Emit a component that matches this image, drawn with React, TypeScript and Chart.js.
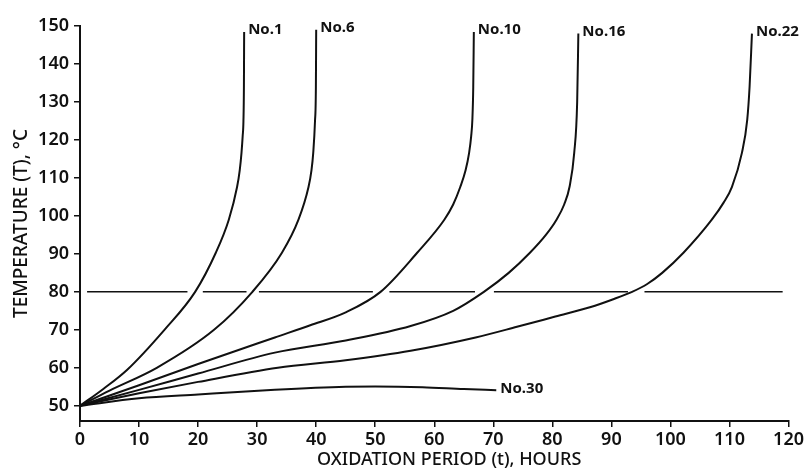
import React, { useEffect, useRef } from 'react';
import { Chart, registerables } from 'chart.js';

Chart.register(...registerables);

// Axis ticks
const xTicks = [0, 10, 20, 30, 40, 50, 60, 70, 80, 90, 100, 110, 120];
const yTicks = [50, 60, 70, 80, 90, 100, 110, 120, 130, 140, 150];

// Curve names
const curveNames = ['No.1', 'No.6', 'No.10', 'No.16', 'No.22', 'No.30'];

// Oxidation period (h) and temperature (°C) for each curve
const no1Time = [0, 4, 8, 14.3, 19.5, 23, 25.2, 26.6, 27.05, 27.35, 27.55, 27.68, 27.76, 27.8];
const no1Temp = [50, 54.5, 59.5, 70, 80, 90.3, 99, 107.6, 112, 116.6, 121, 125, 134, 148.4];

const no6Time = [0, 5, 13, 22.7, 29.2, 34.2, 37, 38.7, 39.2, 39.5, 39.8, 39.95, 40.0];
const no6Temp = [50, 54, 60, 70, 80, 90.3, 99, 107.6, 112, 116.6, 125, 134, 149];

const no10Time = [0, 10, 20, 33, 39, 45, 50.9, 57.1, 61.7, 63.2, 64.4, 65.3, 65.9, 66.25, 66.45, 66.6, 66.7];
const no10Temp = [50, 55.4, 61, 68, 71.2, 74.6, 80, 90.3, 99, 103, 107.6, 112, 116.6, 121, 125.3, 134, 148.4];

const no16Time = [0, 10, 20, 33, 45, 56, 63.2, 68.4, 72.6, 76.2, 78.9, 80.7, 82, 82.9, 83.7, 84.2, 84.4];
const no16Temp = [50, 54.2, 58.5, 64, 67.2, 71, 75, 80, 85, 90.3, 95, 99, 103, 107.6, 116.6, 130, 148];

const no22Time = [0, 10, 20, 33.5, 45, 56, 67, 74, 80.5, 86.5, 90.2, 93.5, 96, 98.6, 102.2, 107, 109, 110.4, 112.1, 113, 113.4, 113.8];
const no22Temp = [50, 53.3, 56.3, 60, 62, 64.5, 68, 70.8, 73.5, 76, 78, 80, 82, 85, 90.3, 99, 103.5, 107.6, 116.6, 125.3, 134, 148];

const no30Time = [0, 10, 20, 33, 45, 50, 58, 65, 70.5];
const no30Temp = [50, 52, 53, 54.2, 55, 55.1, 54.9, 54.4, 54.1];

// Broken horizontal reference line at 80 °C (segments between curve crossings)
const refLevel = 80;
const refSegStart = [1.2, 20.8, 30.3, 52.4, 70.1, 95.6];
const refSegEnd = [18.2, 28.2, 49.6, 66.9, 92.8, 119];

const xTitle = 'OXIDATION PERIOD (t), HOURS';
const yTitle = 'TEMPERATURE (T), °C';

const FONT = "'Noto Sans', 'DejaVu Sans', sans-serif";
const INK = '#111111';

function zip(xs: number[], ys: number[]) {
  return xs.map((x, i) => ({ x, y: ys[i] }));
}

export default function App() {
  const ref = useRef<HTMLCanvasElement>(null);

  useEffect(() => {
    document.body.style.margin = '0';
    const canvas = ref.current!;

    const series = [
      zip(no1Time, no1Temp),
      zip(no6Time, no6Temp),
      zip(no10Time, no10Temp),
      zip(no16Time, no16Temp),
      zip(no22Time, no22Temp),
      zip(no30Time, no30Temp),
    ];
    const refData: any[] = [];
    refSegStart.forEach((s, i) => {
      refData.push({ x: s, y: refLevel });
      refData.push({ x: refSegEnd[i], y: refLevel });
      if (i < refSegStart.length - 1) refData.push({ x: (refSegEnd[i] + refSegStart[i + 1]) / 2, y: null });
    });

    const curveDatasets = series.map((d, i) => ({
      label: curveNames[i],
      data: d,
      borderColor: INK,
      borderWidth: 2,
      pointRadius: 0,
      fill: false,
      cubicInterpolationMode: 'monotone' as const,
    }));

    const labelPlugin = {
      id: 'curveLabels',
      afterDatasetsDraw(chart: any) {
        const { ctx, scales } = chart;
        ctx.save();
        ctx.fillStyle = INK;
        ctx.font = `bold 15px ${FONT}`;
        ctx.textBaseline = 'middle';
        ctx.textAlign = 'left';
        series.forEach((d, i) => {
          const last = d[d.length - 1];
          const px = scales.x.getPixelForValue(last.x);
          const py = scales.y.getPixelForValue(last.y);
          ctx.fillText(curveNames[i], px + 4, py - 2);
        });
        // x-axis title
        const ca = chart.chartArea;
        ctx.font = `500 18px ${FONT}`;
        ctx.textAlign = 'center';
        ctx.fillText(xTitle, ca.left + (ca.right - ca.left) * 0.521, 460);
        ctx.restore();
      },
    };

    const chart = new Chart(canvas, {
      type: 'line',
      data: {
        datasets: [
          ...curveDatasets,
          {
            label: '80',
            data: refData,
            borderColor: INK,
            borderWidth: 1.5,
            pointRadius: 0,
            spanGaps: false,
            fill: false,
          } as any,
        ],
      },
      options: {
        responsive: false,
        animation: false,
        devicePixelRatio: 1,
        layout: { padding: { top: 26, right: 12, left: 0, bottom: 0 } },
        plugins: {
          legend: { display: false },
          tooltip: { enabled: false },
          title: { display: false },
        },
        scales: {
          x: {
            type: 'linear',
            min: 0,
            max: 120,
            afterBuildTicks: (s: any) => {
              s.ticks = xTicks.map((v) => ({ value: v }));
            },
            afterFit: (s: any) => {
              s.height = 50;
            },
            ticks: {
              color: INK,
              font: { family: FONT, size: 18, weight: '600' as any },
              padding: 2,
              maxRotation: 0,
              autoSkip: false,
            },
            grid: { drawOnChartArea: false, tickLength: 6, color: INK, lineWidth: 1.5 },
            border: { color: INK, width: 2 },
          },
          y: {
            type: 'linear',
            min: 46,
            max: 150,
            afterBuildTicks: (s: any) => {
              s.ticks = yTicks.map((v) => ({ value: v }));
            },
            afterFit: (s: any) => {
              s.width = 80;
            },
            ticks: {
              color: INK,
              font: { family: FONT, size: 18, weight: '600' as any },
              padding: 5,
              autoSkip: false,
            },
            grid: { drawOnChartArea: false, tickLength: 6, color: INK, lineWidth: 1.5 },
            border: { color: INK, width: 2 },
            title: {
              display: true,
              text: yTitle,
              color: INK,
              font: { family: FONT, size: 19, weight: '500' as any },
              padding: { top: 10, bottom: 0 },
            },
          },
        },
      },
      plugins: [labelPlugin],
    });
    return () => chart.destroy();
  }, []);

  return (
    <div style={{ position: 'absolute', left: 0, top: 0, width: 806, height: 471, background: '#fff' }}>
      <canvas ref={ref} width={806} height={471} />
    </div>
  );
}
